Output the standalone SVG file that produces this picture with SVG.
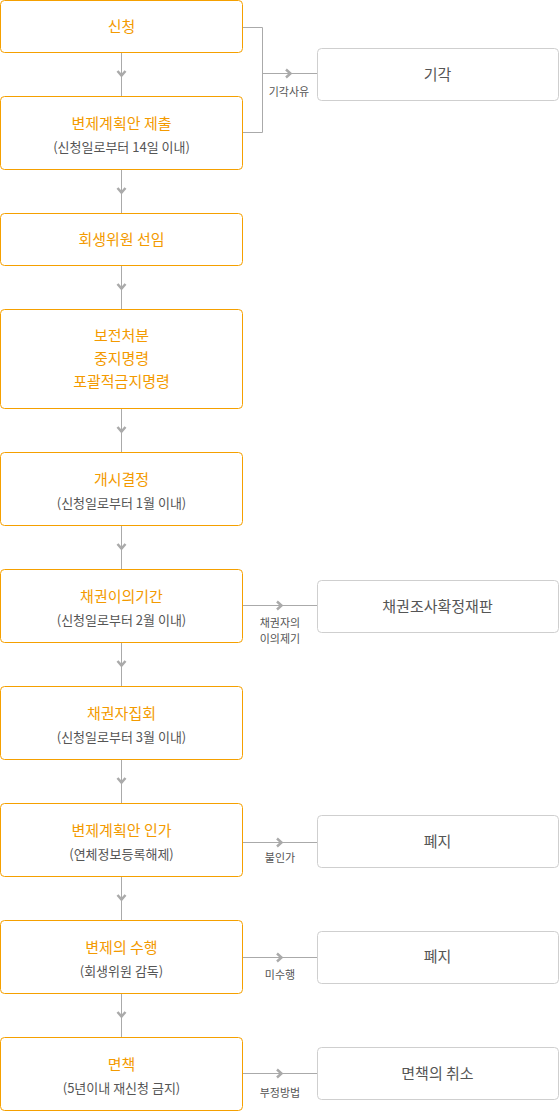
<svg xmlns="http://www.w3.org/2000/svg" width="559" height="1111" viewBox="0 0 559 1111">
<style>
.mb{fill:#fff;stroke:#f5a000;stroke-width:1}
.gb{fill:#fff;stroke:#cfcfcf;stroke-width:1}
.t{font-family:"Noto Sans CJK KR","Noto Sans",sans-serif;font-size:15px;fill:#f39a00;text-anchor:middle}
.s{font-family:"Noto Sans CJK KR","Noto Sans",sans-serif;font-size:13px;fill:#555;text-anchor:middle}
.g{font-family:"Noto Sans CJK KR","Noto Sans",sans-serif;font-size:15px;fill:#555;text-anchor:middle}
.l{font-family:"Noto Sans CJK KR","Noto Sans",sans-serif;font-size:11px;fill:#555;text-anchor:middle}
.ln{fill:none;stroke:#aaa;stroke-width:1}
.ch{fill:none;stroke:#aaa;stroke-width:2.5}
</style>
<g id="connectors">
<path class="ln" d="M121.5 52V96M121.5 169V213M121.5 265V309M121.5 408V452M121.5 525V569M121.5 642V686M121.5 759V803M121.5 876V920M121.5 993V1037"/>
<path class="ch" d="M117.5 71l4 4.5l4-4.5M117.5 188l4 4.5l4-4.5M117.5 284l4 4.5l4-4.5M117.5 427l4 4.5l4-4.5M117.5 544l4 4.5l4-4.5M117.5 661l4 4.5l4-4.5M117.5 778l4 4.5l4-4.5M117.5 895l4 4.5l4-4.5M117.5 1012l4 4.5l4-4.5"/>
<path class="ln" d="M242 27.5H262.5V132.5H242M262.5 73.5H317"/>
<path class="ch" d="M286 69.5l4.5 4l-4.5 4"/>
<text class="l" x="289" y="96">기각사유</text>
<path class="ln" d="M242 605.5H317"/>
<path class="ch" d="M277 601.5l4.5 4l-4.5 4"/>
<text class="l" x="280" y="627">채권자의</text>
<text class="l" x="280" y="643">이의제기</text>
<path class="ln" d="M242 842.5H317"/>
<path class="ch" d="M277 838.5l4.5 4l-4.5 4"/>
<text class="l" x="280" y="862">불인가</text>
<path class="ln" d="M242 957.5H317"/>
<path class="ch" d="M277 953.5l4.5 4l-4.5 4"/>
<text class="l" x="280" y="979">미수행</text>
<path class="ln" d="M242 1073.5H317"/>
<path class="ch" d="M277 1069.5l4.5 4l-4.5 4"/>
<text class="l" x="280" y="1097">부정방법</text>
</g>
<g id="n1"><rect class="mb" x="0.5" y="0.5" width="242" height="52" rx="4"/><text class="t" x="121.5" y="32">신청</text></g>
<g id="n2"><rect class="mb" x="0.5" y="96.5" width="242" height="73" rx="4"/><text class="t" x="121.5" y="129">변제계획안 제출</text><text class="s" x="121.5" y="152">(신청일로부터 14일 이내)</text></g>
<g id="n3"><rect class="mb" x="0.5" y="213.5" width="242" height="52" rx="4"/><text class="t" x="121.5" y="245">회생위원 선임</text></g>
<g id="n4"><rect class="mb" x="0.5" y="309.5" width="242" height="99" rx="4"/><text class="t" x="121.5" y="341">보전처분</text><text class="t" x="121.5" y="364">중지명령</text><text class="t" x="121.5" y="387">포괄적금지명령</text></g>
<g id="n5"><rect class="mb" x="0.5" y="452.5" width="242" height="73" rx="4"/><text class="t" x="121.5" y="485">개시결정</text><text class="s" x="121.5" y="508">(신청일로부터 1월 이내)</text></g>
<g id="n6"><rect class="mb" x="0.5" y="569.5" width="242" height="73" rx="4"/><text class="t" x="121.5" y="602">채권이의기간</text><text class="s" x="121.5" y="625">(신청일로부터 2월 이내)</text></g>
<g id="n7"><rect class="mb" x="0.5" y="686.5" width="242" height="73" rx="4"/><text class="t" x="121.5" y="719">채권자집회</text><text class="s" x="121.5" y="742">(신청일로부터 3월 이내)</text></g>
<g id="n8"><rect class="mb" x="0.5" y="803.5" width="242" height="73" rx="4"/><text class="t" x="121.5" y="836">변제계획안 인가</text><text class="s" x="121.5" y="859">(연체정보등록해제)</text></g>
<g id="n9"><rect class="mb" x="0.5" y="920.5" width="242" height="73" rx="4"/><text class="t" x="121.5" y="953">변제의 수행</text><text class="s" x="121.5" y="976">(회생위원 감독)</text></g>
<g id="n10"><rect class="mb" x="0.5" y="1037.5" width="242" height="73" rx="4"/><text class="t" x="121.5" y="1070">면책</text><text class="s" x="121.5" y="1093">(5년이내 재신청 금지)</text></g>
<g id="r1"><rect class="gb" x="317.5" y="48.5" width="241" height="52" rx="4"/><text class="g" x="437.5" y="80">기각</text></g>
<g id="r2"><rect class="gb" x="317.5" y="580.5" width="241" height="52" rx="4"/><text class="g" x="437.5" y="612">채권조사확정재판</text></g>
<g id="r3"><rect class="gb" x="317.5" y="815.5" width="241" height="52" rx="4"/><text class="g" x="437.5" y="847">폐지</text></g>
<g id="r4"><rect class="gb" x="317.5" y="931.5" width="241" height="52" rx="4"/><text class="g" x="437.5" y="962">폐지</text></g>
<g id="r5"><rect class="gb" x="317.5" y="1047.5" width="241" height="52" rx="4"/><text class="g" x="437.5" y="1079">면책의 취소</text></g>
</svg>
